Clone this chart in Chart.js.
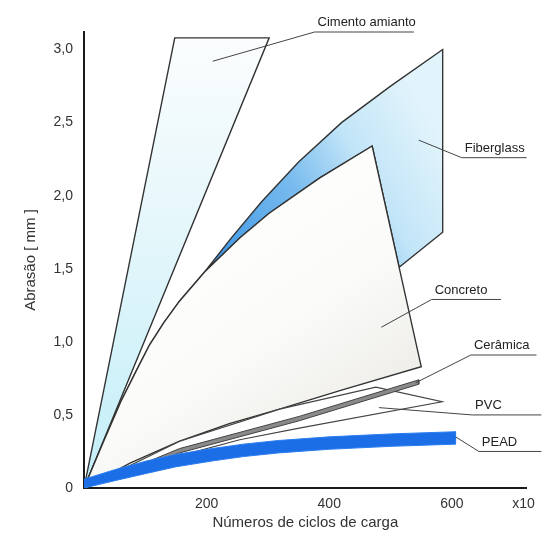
<!DOCTYPE html>
<html>
<head>
<meta charset="utf-8">
<script src="https://cdn.jsdelivr.net/npm/chart.js@4.4.0/dist/chart.umd.min.js"></script>
<style>
  html, body { margin: 0; padding: 0; background: #fff; }
  #wrap { width: 543px; height: 537px; }
</style>
</head>
<body>
<div id="wrap"><canvas id="grafico"></canvas></div>
<script>
// eixos
const yTickValues = [0, 0.5, 1, 1.5, 2, 2.5, 3];
const yTickLabels = ["0", "0,5", "1,0", "1,5", "2,0", "2,5", "3,0"];
const xTickValues = [200, 400, 600];
const xTickLabels = ["200", "400", "600"];
const xUnitLabel = "x10";

// Cimento amianto
const cimentoX = [0, 148, 302, 0];
const cimentoY = [0, 3.08, 3.08, 0];

// Concreto (curva de cima, tambem limite de baixo do fiberglass)
const concretoTopX = [0, 30, 60, 85, 107, 130, 156, 197, 254, 302, 384, 470];
const concretoTopY = [0, 0.30, 0.59, 0.80, 0.98, 1.13, 1.28, 1.48, 1.71, 1.88, 2.12, 2.34];
const concretoBotX = [0, 75, 156, 237, 319, 420, 550];
const concretoBotY = [0, 0.17, 0.32, 0.44, 0.54, 0.67, 0.83];

// Fiberglass
const fiberTopX = [0, 30, 60, 85, 107, 130, 156, 197, 240, 290, 350, 420, 500, 585];
const fiberTopY = [0, 0.30, 0.59, 0.80, 0.98, 1.13, 1.28, 1.48, 1.71, 1.96, 2.23, 2.50, 2.75, 3.0];
const fiberEdgeX = [585, 514];
const fiberEdgeY = [1.75, 1.51];

// Ceramica
const ceramTopX = [0, 156, 351, 546];
const ceramTopY = [0, 0.27, 0.49, 0.74];
const ceramBotX = [0, 156, 351, 546];
const ceramBotY = [0, 0.24, 0.46, 0.71];

// PVC
const pvcTopX = [0, 156, 319, 476, 584];
const pvcTopY = [0, 0.32, 0.54, 0.69, 0.59];
const pvcBotX = [0, 156, 254, 351];
const pvcBotY = [0, 0.22, 0.33, 0.41];

// PEAD
const peadTopX = [0, 50, 102, 150, 209, 260, 317, 400, 500, 606];
const peadTopY = [0.06, 0.125, 0.185, 0.23, 0.27, 0.30, 0.325, 0.35, 0.37, 0.385];
const peadBotX = [0, 50, 102, 150, 209, 260, 317, 400, 500, 606];
const peadBotY = [0, 0.05, 0.10, 0.145, 0.185, 0.215, 0.24, 0.265, 0.285, 0.30];

// legendas com linha de chamada
const notas = [
  { texto: "Cimento amianto", x: [210, 376, 538], y: [2.92, 3.12, 3.12] },
  { texto: "Fiberglass", x: [546, 616, 722], y: [2.38, 2.26, 2.26] },
  { texto: "Concreto", x: [485, 567, 680], y: [1.10, 1.29, 1.29] },
  { texto: "Cerâmica", x: [541, 631, 738], y: [0.72, 0.91, 0.91] },
  { texto: "PVC", x: [481, 633, 746], y: [0.55, 0.50, 0.50] },
  { texto: "PEAD", x: [606, 644, 746], y: [0.35, 0.25, 0.25] },
];

const pts = (xs, ys) => xs.map((x, i) => ({ x: x, y: ys[i] }));

const cimentoPts = pts(cimentoX, cimentoY);
const fiberPts = pts(fiberTopX, fiberTopY)
  .concat(pts(fiberEdgeX, fiberEdgeY))
  .concat(pts(concretoTopX, concretoTopY).reverse());
const concretoPts = pts(concretoTopX, concretoTopY).concat(pts(concretoBotX, concretoBotY).reverse());
const ceramPts = pts(ceramTopX, ceramTopY).concat(pts(ceramBotX, ceramBotY).reverse());
const pvcPts = pts(pvcTopX, pvcTopY).concat(pts(pvcBotX, pvcBotY).reverse());
const peadPts = pts(peadTopX, peadTopY).concat(pts(peadBotX, peadBotY).reverse());

const gradiente = (c, x0, y0, x1, y1, stops) => {
  const ch = c.chart;
  if (!ch.chartArea) return "rgba(0,0,0,0)";
  const sx = ch.scales.x, sy = ch.scales.y;
  const g = ch.ctx.createLinearGradient(
    sx.getPixelForValue(x0), sy.getPixelForValue(y0),
    sx.getPixelForValue(x1), sy.getPixelForValue(y1));
  stops.forEach((s) => g.addColorStop(s[0], s[1]));
  return g;
};

const forma = (data, fundo, borda, largura, ordem) => ({
  data: data,
  fill: "shape",
  backgroundColor: fundo,
  borderColor: borda,
  borderWidth: largura,
  pointRadius: 0,
  tension: 0,
  order: ordem,
});

const notasPlugin = {
  id: "notas",
  afterDatasetsDraw(chart) {
    const ctx = chart.ctx;
    const sx = chart.scales.x, sy = chart.scales.y;
    ctx.save();
    ctx.strokeStyle = "#444";
    ctx.lineWidth = 1;
    ctx.fillStyle = "#222";
    ctx.font = "13px 'Liberation Sans', Arial, sans-serif";
    ctx.textBaseline = "bottom";
    for (const n of notas) {
      ctx.beginPath();
      n.x.forEach((v, i) => {
        const px = sx.getPixelForValue(v), py = sy.getPixelForValue(n.y[i]);
        if (i === 0) ctx.moveTo(px, py); else ctx.lineTo(px, py);
      });
      ctx.stroke();
      const tx = sx.getPixelForValue(n.x[1]) + 3;
      const ty = sy.getPixelForValue(n.y[1]) - 3;
      ctx.fillText(n.texto, tx, ty);
    }
    ctx.restore();
  },
};

const ctx = document.getElementById("grafico").getContext("2d");
const xUnitAt = 717;

new Chart(ctx, {
  type: "line",
  data: {
    datasets: [
      forma(peadPts, "#1c6ee6", "#2a7df0", 1, 0),
      forma(ceramPts, "#8a8a8a", "#444", 1, 1),
      forma(pvcPts, "rgba(255,255,255,0.6)", "#444", 1.2, 2),
      forma(concretoPts,
        (c) => gradiente(c, 300, 2.3, 540, 0.8, [[0, "#ffffff"], [0.6, "#fafaf8"], [1, "#efeeea"]]),
        "#333", 1.4, 3),
      forma(fiberPts,
        (c) => gradiente(c, 190, 1.45, 585, 2.4, [[0, "#3590e3"], [0.45, "#78bbee"], [0.7, "#c2e5f8"], [1, "#e2f4fb"]]),
        "#333", 1.4, 4),
      forma(cimentoPts,
        (c) => gradiente(c, 0, 0, 0, 3.08, [[0, "#c2eef8"], [0.6, "#e6f7fb"], [1, "#fbfdfe"]]),
        "#333", 1.4, 5),
    ],
  },
  options: {
    responsive: true,
    maintainAspectRatio: false,
    animation: false,
    layout: { padding: { top: 32, right: 15, left: 0, bottom: 0 } },
    plugins: { legend: { display: false }, tooltip: { enabled: false } },
    scales: {
      x: {
        type: "linear",
        min: 0,
        max: 722,
        afterFit: (s) => { s.height = 49; },
        afterBuildTicks: (s) => {
          s.ticks = xTickValues.concat([xUnitAt]).map((v) => ({ value: v }));
        },
        grid: { display: false, drawTicks: false },
        border: { display: true, color: "#1a1a1a", width: 2 },
        ticks: {
          autoSkip: false,
          maxRotation: 0,
          padding: 8,
          color: "#333",
          font: { family: "'Liberation Sans', Arial, sans-serif", size: 14 },
          callback: (v) => (v === xUnitAt ? xUnitLabel : xTickLabels[xTickValues.indexOf(v)]),
        },
        title: {
          display: true,
          text: "Números de ciclos de carga",
          color: "#333",
          padding: { top: 0, bottom: 5 },
          font: { family: "'Liberation Sans', Arial, sans-serif", size: 15 },
        },
      },
      y: {
        min: 0,
        max: 3.12,
        afterFit: (s) => { s.width = 84; },
        afterBuildTicks: (s) => {
          s.ticks = yTickValues.map((v) => ({ value: v }));
        },
        grid: { display: false, drawTicks: false },
        border: { display: true, color: "#1a1a1a", width: 2 },
        ticks: {
          padding: 11,
          color: "#333",
          font: { family: "'Liberation Sans', Arial, sans-serif", size: 14 },
          callback: (v) => yTickLabels[yTickValues.indexOf(v)],
        },
        title: {
          display: true,
          text: "Abrasão [ mm ]",
          color: "#333",
          padding: { top: 22, bottom: 0 },
          font: { family: "'Liberation Sans', Arial, sans-serif", size: 15 },
        },
      },
    },
  },
  plugins: [notasPlugin],
});
</script>
</body>
</html>
